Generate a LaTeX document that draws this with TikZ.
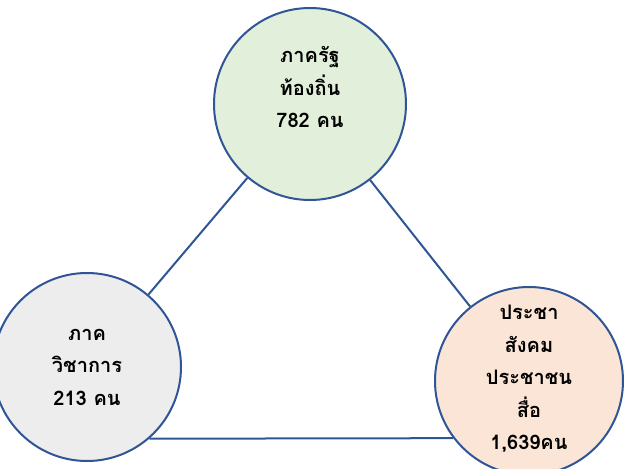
\documentclass[tikz,border=0pt]{standalone}
\usepackage{fontspec}
\newfontfamily\thaifont[Script=Thai]{Loma}
\usetikzlibrary{positioning}
\definecolor{ringblue}{HTML}{2F5597}
\definecolor{stategreen}{HTML}{E2EFDA}
\definecolor{academgray}{HTML}{EDEDED}
\definecolor{peoplepeach}{HTML}{FBE5D6}

\begin{document}
\begin{tikzpicture}[x=1pt, y=-1pt,
    group/.style={circle, draw=ringblue, line width=2pt, inner sep=0pt},
    grouptext/.style={align=center, font=\thaifont\bfseries\fontsize{20}{32.5}\selectfont},
    link/.style={draw=ringblue, line width=2pt}]
    \useasboundingbox (0,0) rectangle (641,469);

    % three groups
    \node[group, fill=stategreen, minimum size=192pt] (state) at (310,104) {};
    \node[group, fill=academgray, minimum size=188pt] (academ) at (87,367) {};
    \node[group, fill=peoplepeach, minimum size=188pt] (people) at (529,381) {};

    \node[grouptext] (statetxt) at (310,87) {ภาครัฐ\\ท้องถิ่น\\782 คน};
    \node[grouptext] (academtxt) at (87,367) {ภาค\\วิชาการ\\213 คน};
    \node[grouptext] (peopletxt) at (529,379) {ประชา\\สังคม\\ประชาชน\\สื่อ\\1,639คน};

    % links between groups
    \draw[link] (state) -- (academ);
    \draw[link] (state) -- (people);
    \draw[link] (academ.-49) -- (people.217);
\end{tikzpicture}
\end{document}
